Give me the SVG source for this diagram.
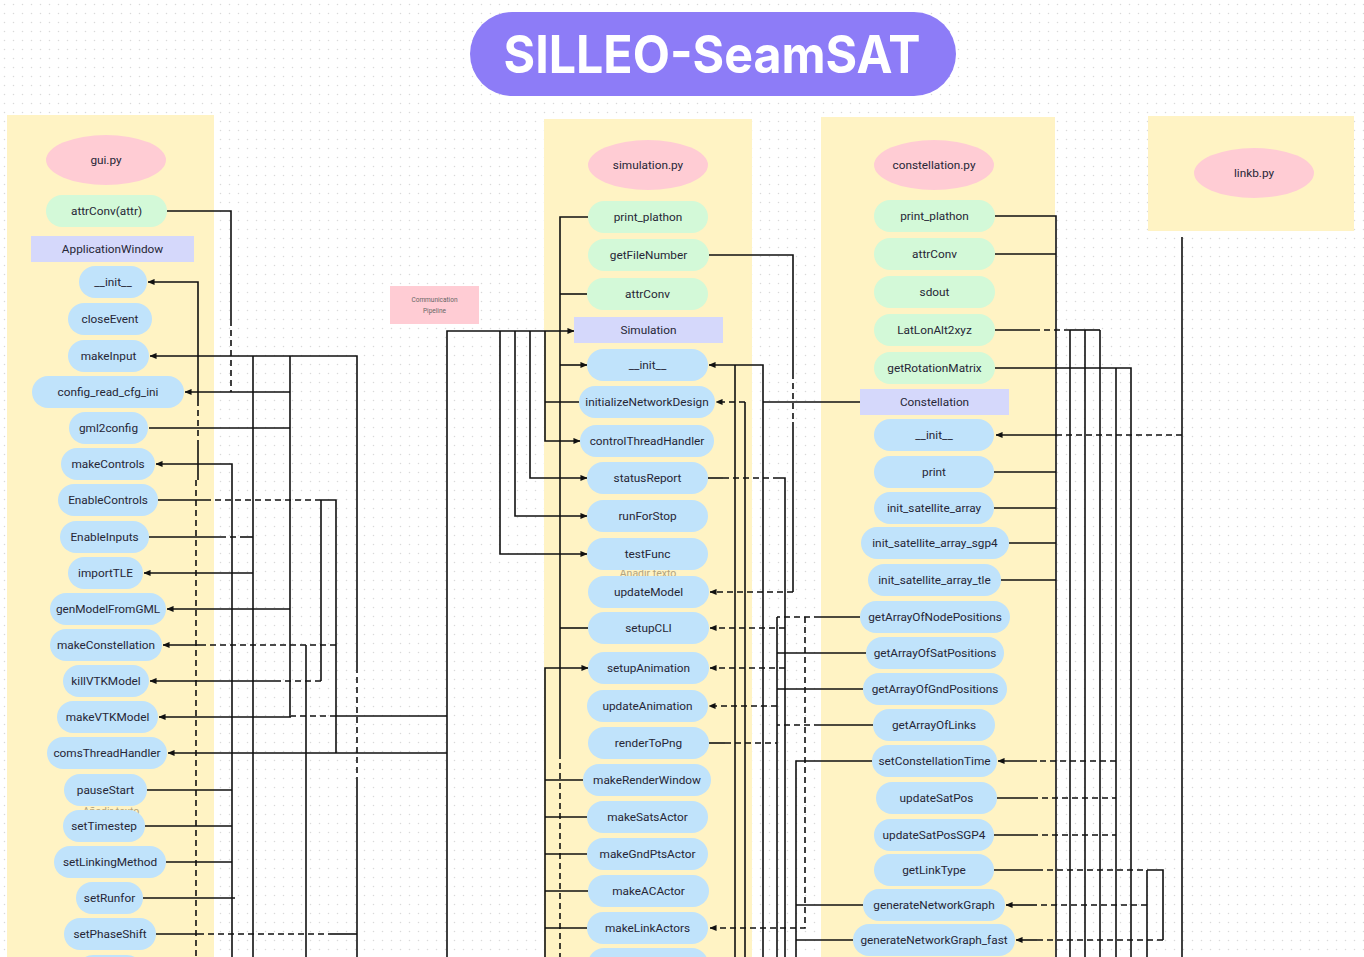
<svg xmlns="http://www.w3.org/2000/svg" width="1364" height="957" viewBox="0 0 1364 957">
<defs>
<pattern id="dots" x="0" y="0" width="9" height="9" patternUnits="userSpaceOnUse"><circle cx="4.5" cy="4.5" r="0.75" fill="#d9d9d9"/></pattern>
<marker id="a" viewBox="0 0 8 8" refX="7.5" refY="4" markerWidth="7" markerHeight="7" markerUnits="userSpaceOnUse" orient="auto"><path d="M0,0.5 L8,4 L0,7.5 z" fill="#111"/></marker>
</defs>
<style>
.pnl{fill:#fff3c4}
.ell{fill:#ffccd4}
.g{fill:#d3f9d8}
.b{fill:#c0e3fb}
.cls{fill:#d5d8fb}
.t{font-family:Roboto,"Liberation Sans",sans-serif;font-size:11.8px;fill:#262636;text-anchor:middle}
.c{fill:none;stroke:#111;stroke-width:1.6}
.d{stroke-dasharray:6 4}
.ghost{font-family:Roboto,"Liberation Sans",sans-serif;font-size:10.5px;fill:#b3a47f;text-anchor:middle}
</style>
<rect width="1364" height="957" fill="#ffffff"/>
<rect width="1364" height="957" fill="url(#dots)"/>

<g id="panels">
<rect class="pnl" x="7" y="115" width="207" height="842"/>
<rect class="pnl" x="544" y="119" width="208" height="838"/>
<rect class="pnl" x="821" y="117" width="234" height="840"/>
<rect class="pnl" x="1148" y="116" width="206" height="115"/>
</g>

<g id="title">
<rect x="470" y="12" width="486" height="84" rx="42" fill="#8d7cf7"/>
<text x="712" y="73" font-family="Inter,'Liberation Sans',sans-serif" font-size="52" font-weight="700" fill="#ffffff" text-anchor="middle" textLength="417" lengthAdjust="spacingAndGlyphs">SILLEO-SeamSAT</text>
</g>

<g id="comm-pipeline">
<rect x="390" y="286" width="89" height="38" fill="#ffccd4"/>
<text x="434.5" y="302" font-family="Roboto,'Liberation Sans',sans-serif" font-size="6.5" fill="#666" text-anchor="middle">Communication</text>
<text x="434.5" y="313" font-family="Roboto,'Liberation Sans',sans-serif" font-size="6.5" fill="#666" text-anchor="middle">Pipeline</text>
</g>

<g id="ghost-texts">
<text class="ghost" x="111" y="815">Añadir texto</text>
<text class="ghost" x="648" y="577">Añadir texto</text>
</g>

<g id="connectors">
<!-- left column -->
<path class="c" d="M167,211 H231 V320"/>
<path class="c d" d="M231,320 V392"/>
<path class="c" d="M198,400 V282 H148" marker-end="url(#a)"/>
<path class="c d" d="M198,400 V440"/>
<path class="c" d="M198,440 V480"/>
<path class="c d" d="M196,480 V957"/>
<path class="c" d="M357,957 V783"/>
<path class="c d" d="M357,783 V672"/>
<path class="c" d="M357,672 V356 H150" marker-end="url(#a)"/>
<path class="c" d="M156,934 H198"/>
<path class="c d" d="M198,934 H330"/>
<path class="c" d="M330,934 H357"/>
<path class="c" d="M253,356 V957"/>
<path class="c" d="M290,356 V717"/>
<path class="c" d="M290,392 H185" marker-end="url(#a)"/>
<path class="c" d="M149,428 H290"/>
<path class="c" d="M232,957 V464 H156" marker-end="url(#a)"/>
<path class="c" d="M158,500 H205"/>
<path class="c d" d="M205,500 H321"/>
<path class="c" d="M321,500 H336 V753"/>
<path class="c" d="M321,500 V681"/>
<path class="c d" d="M321,681 H276"/>
<path class="c" d="M276,681 H150" marker-end="url(#a)"/>
<path class="c" d="M149,537 H220"/>
<path class="c d" d="M220,537 H240"/>
<path class="c" d="M240,537 H253"/>
<path class="c" d="M253,573 H144" marker-end="url(#a)"/>
<path class="c" d="M290,609 H167" marker-end="url(#a)"/>
<path class="c d" d="M336,645 H205"/>
<path class="c" d="M205,645 H163" marker-end="url(#a)"/>
<path class="c" d="M306,645 V957"/>
<path class="c" d="M447,716 H336"/>
<path class="c d" d="M336,716 H291"/>
<path class="c" d="M291,717 H159" marker-end="url(#a)"/>
<path class="c" d="M447,753 H168" marker-end="url(#a)"/>
<path class="c" d="M147,790 H232"/>
<path class="c" d="M145,826 H232"/>
<path class="c" d="M166,862 H232"/>
<path class="c" d="M143,898 H235"/>
<!-- to Simulation -->
<path class="c" d="M447,957 V331 H574" marker-end="url(#a)"/>
<path class="c" d="M545,331 V441 H580" marker-end="url(#a)"/>
<path class="c" d="M545,402 H579"/>
<path class="c" d="M530,331 V478 H587" marker-end="url(#a)"/>
<path class="c" d="M515,331 V516 H587" marker-end="url(#a)"/>
<path class="c" d="M500,331 V554 H587" marker-end="url(#a)"/>
<!-- middle column left -->
<path class="c" d="M588,217 H560 V753"/>
<path class="c d" d="M560,753 V957"/>
<path class="c" d="M587,294 H560"/>
<path class="c" d="M560,365 H587" marker-end="url(#a)"/>
<path class="c" d="M588,628 H560"/>
<path class="c" d="M545,957 V668 H588" marker-end="url(#a)"/>
<path class="c" d="M545,780 H583"/>
<path class="c" d="M545,817 H587"/>
<path class="c" d="M545,854 H587"/>
<path class="c" d="M545,891 H588"/>
<path class="c" d="M545,928 H587"/>
<!-- middle column right -->
<path class="c" d="M709,255 H793 V373"/>
<path class="c d" d="M793,373 V422"/>
<path class="c" d="M793,422 V592"/>
<path class="c d" d="M793,592 H710" marker-end="url(#a)"/>
<path class="c" d="M763,957 V365 H709" marker-end="url(#a)"/>
<path class="c" d="M735,365 V957"/>
<path class="c" d="M763,402 H860"/>
<path class="c d" d="M745,402 H716" marker-end="url(#a)"/>
<path class="c" d="M745,402 V957"/>
<path class="c" d="M708,478 H723"/>
<path class="c d" d="M723,478 H773"/>
<path class="c" d="M773,478 H785 V957"/>
<path class="c d" d="M785,628 H710" marker-end="url(#a)"/>
<path class="c d" d="M785,668 H710" marker-end="url(#a)"/>
<path class="c d" d="M777,706 H709" marker-end="url(#a)"/>
<path class="c" d="M709,743 H725"/>
<path class="c d" d="M725,743 H777"/>
<path class="c" d="M777,617 V957"/>
<path class="c" d="M860,617 H820"/>
<path class="c d" d="M820,617 H777"/>
<path class="c" d="M866,653 H777"/>
<path class="c" d="M863,689 H777"/>
<path class="c" d="M873,725 H820"/>
<path class="c d" d="M820,725 H777"/>
<path class="c" d="M872,761 H796 V957"/>
<path class="c" d="M863,905 H796"/>
<path class="c" d="M853,940 H796"/>
<path class="c d" d="M805,617 V928 H710" marker-end="url(#a)"/>
<!-- right column -->
<path class="c" d="M995,216 H1056 V957"/>
<path class="c" d="M995,254 H1056"/>
<path class="c" d="M994,472 H1056"/>
<path class="c" d="M994,508 H1056"/>
<path class="c" d="M1009,543 H1056"/>
<path class="c" d="M1001,580 H1056"/>
<path class="c" d="M995,330 H1034"/>
<path class="c d" d="M1034,330 H1070"/>
<path class="c" d="M1070,330 H1100"/>
<path class="c" d="M1070,330 V957"/>
<path class="c" d="M1085,330 V957"/>
<path class="c" d="M1100,330 V957"/>
<path class="c" d="M995,368 H1131 V957"/>
<path class="c" d="M1116,368 V957"/>
<path class="c" d="M1182,237 V957"/>
<path class="c d" d="M1182,435 H1060"/>
<path class="c" d="M1060,435 H996" marker-end="url(#a)"/>
<path class="c d" d="M1116,761 H1037"/>
<path class="c" d="M1037,761 H998" marker-end="url(#a)"/>
<path class="c" d="M997,798 H1032"/>
<path class="c d" d="M1032,798 H1116"/>
<path class="c" d="M994,835 H1032"/>
<path class="c d" d="M1032,835 H1116"/>
<path class="c" d="M994,870 H1037"/>
<path class="c d" d="M1037,870 H1147"/>
<path class="c" d="M1147,870 H1163 V940"/>
<path class="c" d="M1147,870 V957"/>
<path class="c d" d="M1147,905 H1037"/>
<path class="c" d="M1037,905 H1006" marker-end="url(#a)"/>
<path class="c d" d="M1163,940 H1037"/>
<path class="c" d="M1037,940 H1016" marker-end="url(#a)"/>
</g>

<!-- gui.py -->
<g id="gui_py"><ellipse class="ell" cx="106" cy="160" rx="60" ry="25"/><text class="t" x="106" y="164">gui.py</text></g>
<g id="gui_attrConv"><rect class="g" x="46" y="195" width="121" height="32" rx="16"/><text class="t" x="106.5" y="215">attrConv(attr)</text></g>
<g id="gui_ApplicationWindow"><rect class="cls" x="31" y="236" width="163" height="26"/><text class="t" x="112.5" y="253">ApplicationWindow</text></g>
<g id="gui_init"><rect class="b" x="79" y="266" width="68" height="32" rx="16"/><text class="t" x="113" y="286">__init__</text></g>
<g id="gui_closeEvent"><rect class="b" x="68" y="303" width="84" height="32" rx="16"/><text class="t" x="110" y="323">closeEvent</text></g>
<g id="gui_makeInput"><rect class="b" x="68" y="340" width="81" height="32" rx="16"/><text class="t" x="108.5" y="360">makeInput</text></g>
<g id="gui_config_read_cfg_ini"><rect class="b" x="32" y="376" width="152" height="32" rx="16"/><text class="t" x="108" y="396">config_read_cfg_ini</text></g>
<g id="gui_gml2config"><rect class="b" x="69" y="412" width="79" height="32" rx="16"/><text class="t" x="108.5" y="432">gml2config</text></g>
<g id="gui_makeControls"><rect class="b" x="61" y="448" width="94" height="32" rx="16"/><text class="t" x="108" y="468">makeControls</text></g>
<g id="gui_EnableControls"><rect class="b" x="58" y="484" width="100" height="32" rx="16"/><text class="t" x="108" y="504">EnableControls</text></g>
<g id="gui_EnableInputs"><rect class="b" x="60" y="521" width="89" height="32" rx="16"/><text class="t" x="104.5" y="541">EnableInputs</text></g>
<g id="gui_importTLE"><rect class="b" x="68" y="557" width="75" height="32" rx="16"/><text class="t" x="105.5" y="577">importTLE</text></g>
<g id="gui_genModelFromGML"><rect class="b" x="50" y="593" width="116" height="32" rx="16"/><text class="t" x="108" y="613">genModelFromGML</text></g>
<g id="gui_makeConstellation"><rect class="b" x="50" y="629" width="112" height="32" rx="16"/><text class="t" x="106" y="649">makeConstellation</text></g>
<g id="gui_killVTKModel"><rect class="b" x="63" y="665" width="86" height="32" rx="16"/><text class="t" x="106" y="685">killVTKModel</text></g>
<g id="gui_makeVTKModel"><rect class="b" x="57" y="701" width="101" height="32" rx="16"/><text class="t" x="107.5" y="721">makeVTKModel</text></g>
<g id="gui_comsThreadHandler"><rect class="b" x="47" y="737" width="120" height="32" rx="16"/><text class="t" x="107" y="757">comsThreadHandler</text></g>
<g id="gui_pauseStart"><rect class="b" x="64" y="774" width="83" height="32" rx="16"/><text class="t" x="105.5" y="794">pauseStart</text></g>
<g id="gui_setTimestep"><rect class="b" x="63" y="810" width="82" height="32" rx="16"/><text class="t" x="104" y="830">setTimestep</text></g>
<g id="gui_setLinkingMethod"><rect class="b" x="54" y="846" width="112" height="32" rx="16"/><text class="t" x="110" y="866">setLinkingMethod</text></g>
<g id="gui_setRunfor"><rect class="b" x="76" y="882" width="67" height="32" rx="16"/><text class="t" x="109.5" y="902">setRunfor</text></g>
<g id="gui_setPhaseShift"><rect class="b" x="64" y="918" width="92" height="32" rx="16"/><text class="t" x="110" y="938">setPhaseShift</text></g>
<g id="gui_more"><rect class="b" x="77" y="955" width="66" height="32" rx="16"/></g>

<!-- simulation.py -->
<g id="sim_py"><ellipse class="ell" cx="648" cy="165" rx="60" ry="25"/><text class="t" x="648" y="169">simulation.py</text></g>
<g id="sim_print_plathon"><rect class="g" x="588" y="201" width="120" height="32" rx="16"/><text class="t" x="648" y="221">print_plathon</text></g>
<g id="sim_getFileNumber"><rect class="g" x="588" y="239" width="121" height="32" rx="16"/><text class="t" x="648.5" y="259">getFileNumber</text></g>
<g id="sim_attrConv"><rect class="g" x="587" y="278" width="121" height="32" rx="16"/><text class="t" x="647.5" y="298">attrConv</text></g>
<g id="sim_Simulation"><rect class="cls" x="574" y="317" width="149" height="26"/><text class="t" x="648.5" y="334">Simulation</text></g>
<g id="sim_init"><rect class="b" x="587" y="349" width="121" height="32" rx="16"/><text class="t" x="647.5" y="369">__init__</text></g>
<g id="sim_initializeNetworkDesign"><rect class="b" x="579" y="386" width="136" height="32" rx="16"/><text class="t" x="647" y="406">initializeNetworkDesign</text></g>
<g id="sim_controlThreadHandler"><rect class="b" x="580" y="425" width="134" height="32" rx="16"/><text class="t" x="647" y="445">controlThreadHandler</text></g>
<g id="sim_statusReport"><rect class="b" x="587" y="462" width="121" height="32" rx="16"/><text class="t" x="647.5" y="482">statusReport</text></g>
<g id="sim_runForStop"><rect class="b" x="587" y="500" width="121" height="32" rx="16"/><text class="t" x="647.5" y="520">runForStop</text></g>
<g id="sim_testFunc"><rect class="b" x="587" y="538" width="121" height="32" rx="16"/><text class="t" x="647.5" y="558">testFunc</text></g>
<g id="sim_updateModel"><rect class="b" x="588" y="576" width="121" height="32" rx="16"/><text class="t" x="648.5" y="596">updateModel</text></g>
<g id="sim_setupCLI"><rect class="b" x="588" y="612" width="121" height="32" rx="16"/><text class="t" x="648.5" y="632">setupCLI</text></g>
<g id="sim_setupAnimation"><rect class="b" x="588" y="652" width="121" height="32" rx="16"/><text class="t" x="648.5" y="672">setupAnimation</text></g>
<g id="sim_updateAnimation"><rect class="b" x="587" y="690" width="121" height="32" rx="16"/><text class="t" x="647.5" y="710">updateAnimation</text></g>
<g id="sim_renderToPng"><rect class="b" x="588" y="727" width="121" height="32" rx="16"/><text class="t" x="648.5" y="747">renderToPng</text></g>
<g id="sim_makeRenderWindow"><rect class="b" x="583" y="764" width="128" height="32" rx="16"/><text class="t" x="647" y="784">makeRenderWindow</text></g>
<g id="sim_makeSatsActor"><rect class="b" x="587" y="801" width="121" height="32" rx="16"/><text class="t" x="647.5" y="821">makeSatsActor</text></g>
<g id="sim_makeGndPtsActor"><rect class="b" x="587" y="838" width="121" height="32" rx="16"/><text class="t" x="647.5" y="858">makeGndPtsActor</text></g>
<g id="sim_makeACActor"><rect class="b" x="588" y="875" width="121" height="32" rx="16"/><text class="t" x="648.5" y="895">makeACActor</text></g>
<g id="sim_makeLinkActors"><rect class="b" x="587" y="912" width="121" height="32" rx="16"/><text class="t" x="647.5" y="932">makeLinkActors</text></g>
<g id="sim_more"><rect class="b" x="588" y="948" width="120" height="32" rx="16"/></g>

<!-- constellation.py -->
<g id="con_py"><ellipse class="ell" cx="934" cy="165" rx="60" ry="25"/><text class="t" x="934" y="169">constellation.py</text></g>
<g id="con_print_plathon"><rect class="g" x="874" y="200" width="121" height="32" rx="16"/><text class="t" x="934.5" y="220">print_plathon</text></g>
<g id="con_attrConv"><rect class="g" x="874" y="238" width="121" height="32" rx="16"/><text class="t" x="934.5" y="258">attrConv</text></g>
<g id="con_sdout"><rect class="g" x="874" y="276" width="121" height="32" rx="16"/><text class="t" x="934.5" y="296">sdout</text></g>
<g id="con_LatLonAlt2xyz"><rect class="g" x="874" y="314" width="121" height="32" rx="16"/><text class="t" x="934.5" y="334">LatLonAlt2xyz</text></g>
<g id="con_getRotationMatrix"><rect class="g" x="874" y="352" width="121" height="32" rx="16"/><text class="t" x="934.5" y="372">getRotationMatrix</text></g>
<g id="con_Constellation"><rect class="cls" x="860" y="389" width="149" height="26"/><text class="t" x="934.5" y="406">Constellation</text></g>
<g id="con_init"><rect class="b" x="874" y="419" width="120" height="32" rx="16"/><text class="t" x="934" y="439">__init__</text></g>
<g id="con_print"><rect class="b" x="874" y="456" width="120" height="32" rx="16"/><text class="t" x="934" y="476">print</text></g>
<g id="con_init_satellite_array"><rect class="b" x="874" y="492" width="120" height="32" rx="16"/><text class="t" x="934" y="512">init_satellite_array</text></g>
<g id="con_init_satellite_array_sgp4"><rect class="b" x="861" y="527" width="148" height="32" rx="16"/><text class="t" x="935" y="547">init_satellite_array_sgp4</text></g>
<g id="con_init_satellite_array_tle"><rect class="b" x="868" y="564" width="133" height="32" rx="16"/><text class="t" x="934.5" y="584">init_satellite_array_tle</text></g>
<g id="con_getArrayOfNodePositions"><rect class="b" x="860" y="601" width="150" height="32" rx="16"/><text class="t" x="935" y="621">getArrayOfNodePositions</text></g>
<g id="con_getArrayOfSatPositions"><rect class="b" x="866" y="637" width="138" height="32" rx="16"/><text class="t" x="935" y="657">getArrayOfSatPositions</text></g>
<g id="con_getArrayOfGndPositions"><rect class="b" x="863" y="673" width="144" height="32" rx="16"/><text class="t" x="935" y="693">getArrayOfGndPositions</text></g>
<g id="con_getArrayOfLinks"><rect class="b" x="873" y="709" width="122" height="32" rx="16"/><text class="t" x="934" y="729">getArrayOfLinks</text></g>
<g id="con_setConstellationTime"><rect class="b" x="872" y="745" width="125" height="32" rx="16"/><text class="t" x="934.5" y="765">setConstellationTime</text></g>
<g id="con_updateSatPos"><rect class="b" x="876" y="782" width="121" height="32" rx="16"/><text class="t" x="936.5" y="802">updateSatPos</text></g>
<g id="con_updateSatPosSGP4"><rect class="b" x="874" y="819" width="120" height="32" rx="16"/><text class="t" x="934" y="839">updateSatPosSGP4</text></g>
<g id="con_getLinkType"><rect class="b" x="874" y="854" width="120" height="32" rx="16"/><text class="t" x="934" y="874">getLinkType</text></g>
<g id="con_generateNetworkGraph"><rect class="b" x="863" y="889" width="142" height="32" rx="16"/><text class="t" x="934" y="909">generateNetworkGraph</text></g>
<g id="con_generateNetworkGraph_fast"><rect class="b" x="853" y="924" width="162" height="32" rx="16"/><text class="t" x="934" y="944">generateNetworkGraph_fast</text></g>

<!-- linkb.py -->
<g id="linkb_py"><ellipse class="ell" cx="1254" cy="173" rx="60" ry="25"/><text class="t" x="1254" y="177">linkb.py</text></g>
</svg>
